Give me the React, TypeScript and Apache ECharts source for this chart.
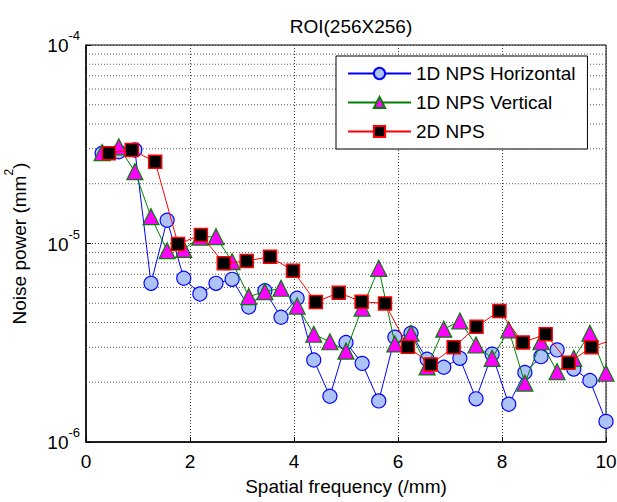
import React, { useEffect, useRef } from "react";
import * as echarts from "echarts";

const FONT = "'Liberation Sans', Arial, Helvetica, sans-serif";

// Spatial frequencies (/mm)
const freq1D = [
  0.31, 0.63, 0.94, 1.25, 1.56, 1.88, 2.19, 2.5, 2.81, 3.13, 3.44, 3.75, 4.06, 4.38, 4.69, 5.0,
  5.31, 5.63, 5.94, 6.25, 6.56, 6.88, 7.19, 7.5, 7.81, 8.13, 8.44, 8.75, 9.06, 9.38, 9.69, 10.0,
];
const freq2D = [
  0.44, 0.88, 1.33, 1.77, 2.21, 2.65, 3.09, 3.54, 3.98, 4.42, 4.86, 5.3, 5.75, 6.19, 6.63, 7.07,
  7.51, 7.95, 8.4, 8.84, 9.28, 9.72, 10.17,
];

// Noise power (mm^2)
const npsHorizontal = [
  2.85e-5, 2.9e-5, 2.96e-5, 6.3e-6, 1.31e-5, 6.68e-6, 5.57e-6, 6.3e-6, 6.6e-6, 4.79e-6, 5.78e-6,
  4.25e-6, 5.3e-6, 2.59e-6, 1.7e-6, 3.17e-6, 2.49e-6, 1.61e-6, 3.37e-6, 3.53e-6, 2.61e-6, 2.38e-6,
  2.64e-6, 1.65e-6, 2.77e-6, 1.55e-6, 2.24e-6, 2.69e-6, 2.91e-6, 2.33e-6, 2.04e-6, 1.27e-6,
];
const npsVertical = [
  2.87e-5, 3.07e-5, 2.3e-5, 1.365e-5, 9.2e-6, 9.35e-6, 1.078e-5, 1.082e-5, 8.1e-6, 5.4e-6, 5.72e-6,
  5.95e-6, 4.84e-6, 3.49e-6, 3.2e-6, 2.87e-6, 4.73e-6, 7.5e-6, 3.12e-6, 3.53e-6, 2.39e-6, 3.7e-6,
  4.07e-6, 3.08e-6, 2.64e-6, 3.67e-6, 1.98e-6, 3.2e-6, 2.26e-6, 2.64e-6, 3.53e-6, 2.22e-6,
];
const nps2D = [
  2.85e-5, 2.96e-5, 2.58e-5, 9.94e-6, 1.104e-5, 7.95e-6, 8.16e-6, 8.58e-6, 7.29e-6, 5.07e-6, 5.65e-6,
  5.09e-6, 4.99e-6, 3.02e-6, 2.46e-6, 3.0e-6, 3.81e-6, 4.57e-6, 3.17e-6, 3.49e-6, 2.51e-6, 3.0e-6,
  3.31e-6,
];

// Log-axis minor grid positions and x tick values
const minorGrid = [
  2e-6, 3e-6, 4e-6, 5e-6, 6e-6, 7e-6, 8e-6, 9e-6, 2e-5, 3e-5, 4e-5, 5e-5, 6e-5, 7e-5, 8e-5, 9e-5,
];
const xTicks = [0, 2, 4, 6, 8, 10];
const seriesNames = ["1D NPS Horizontal", "1D NPS Vertical", "2D NPS"];

export default function App() {
  const ref = useRef<HTMLDivElement>(null);

  useEffect(() => {
    if (!ref.current) return;
    const chart = echarts.init(ref.current, undefined, { renderer: "svg" });
    const gridLine = { show: true, lineStyle: { color: "#3a3a3a", type: [1, 2], width: 1 } };
    const xMin = xTicks[0];
    const xMax = xTicks[xTicks.length - 1];
    const minorSeries = minorGrid.map((v) => ({
      type: "line",
      data: [
        [xMin, v],
        [xMax, v],
      ],
      symbol: "none",
      showSymbol: false,
      silent: true,
      z: 1,
      lineStyle: { color: "#5a5a5a", type: [1, 2], width: 1 },
      emphasis: { disabled: true },
      tooltip: { show: false },
    }));
    chart.setOption({
      animation: false,
      backgroundColor: "#ffffff",
      textStyle: { fontFamily: FONT },
      title: {
        text: "ROI(256X256)",
        left: 346,
        textAlign: "center",
        top: 12,
        textStyle: { fontSize: 19, fontWeight: "normal", color: "#000", fontFamily: FONT },
      },
      grid: {
        left: 86,
        right: 11,
        top: 45,
        bottom: 60,
        containLabel: false,
        outerBoundsMode: "none",
        show: true,
        borderColor: "#000",
        borderWidth: 1,
        backgroundColor: "transparent",
      },
      legend: {
        data: seriesNames,
        orient: "vertical",
        left: 336,
        top: 56,
        padding: [7, 12, 7, 11],
        itemGap: 8,
        itemWidth: 63,
        itemHeight: 14,
        backgroundColor: "#fff",
        borderColor: "#000",
        borderWidth: 1,
        textStyle: { fontSize: 19, color: "#000", fontFamily: FONT, lineHeight: 21 },
      },
      xAxis: {
        type: "value",
        min: xMin,
        max: xMax,
        interval: 2,
        axisLine: { show: true, onZero: false, lineStyle: { color: "#000", width: 1.5 } },
        axisTick: { show: true, inside: true, length: 5, lineStyle: { color: "#000" } },
        axisLabel: { fontSize: 19, color: "#000", margin: 10, fontFamily: FONT },
        splitLine: gridLine,
        name: "Spatial frequency (/mm)",
        nameLocation: "middle",
        nameGap: 35,
        nameTextStyle: { fontSize: 19, color: "#000", fontFamily: FONT },
      },
      yAxis: {
        type: "log",
        logBase: 10,
        min: 1e-6,
        max: 1e-4,
        axisLine: { show: true, lineStyle: { color: "#000", width: 1.5 } },
        axisTick: { show: true, inside: true, length: 5, lineStyle: { color: "#000" } },
        axisLabel: {
          margin: 6,
          padding: [0, 0, 6, 0],
          formatter: (v: number) => `{b|10}{s|${Math.round(Math.log10(v))}}`,
          rich: {
            b: { fontSize: 19, color: "#000", fontFamily: FONT, verticalAlign: "bottom", lineHeight: 26 },
            s: { fontSize: 13, color: "#000", fontFamily: FONT, verticalAlign: "top", lineHeight: 13 },
          },
        },
        splitLine: gridLine,
        name: "{n|Noise power (mm}{s|2}{n|)}",
        nameLocation: "middle",
        nameGap: 57,
        nameTextStyle: {
          rich: {
            n: { fontSize: 19, color: "#000", fontFamily: FONT, verticalAlign: "bottom", lineHeight: 26 },
            s: { fontSize: 12, color: "#000", fontFamily: FONT, verticalAlign: "top", lineHeight: 12 },
          },
        },
      },
      series: [
        ...minorSeries,
        {
          name: seriesNames[0],
          type: "line",
          data: freq1D.map((f, i) => [f, npsHorizontal[i]]),
          symbol: "circle",
          symbolSize: 14,
          lineStyle: { color: "#0000ff", width: 1 },
          itemStyle: { color: "#aec3f5", borderColor: "#0000ff", borderWidth: 1.2 },
          z: 3,
        },
        {
          name: seriesNames[1],
          type: "line",
          data: freq1D.map((f, i) => [f, npsVertical[i]]),
          symbol: "triangle",
          symbolSize: 16,
          lineStyle: { color: "#008000", width: 1 },
          itemStyle: { color: "#ff00ff", borderColor: "#008000", borderWidth: 1.2 },
          z: 4,
        },
        {
          name: seriesNames[2],
          type: "line",
          data: freq2D.map((f, i) => [f, nps2D[i]]),
          symbol: "rect",
          symbolSize: 13,
          lineStyle: { color: "#ff0000", width: 1 },
          itemStyle: { color: "#000000", borderColor: "#ff0000", borderWidth: 1.5 },
          z: 5,
        },
      ],
    });
    return () => chart.dispose();
  }, []);

  return (
    <div
      ref={ref}
      style={{ position: "fixed", left: 0, top: 0, width: 617, height: 502, background: "#fff" }}
    />
  );
}
